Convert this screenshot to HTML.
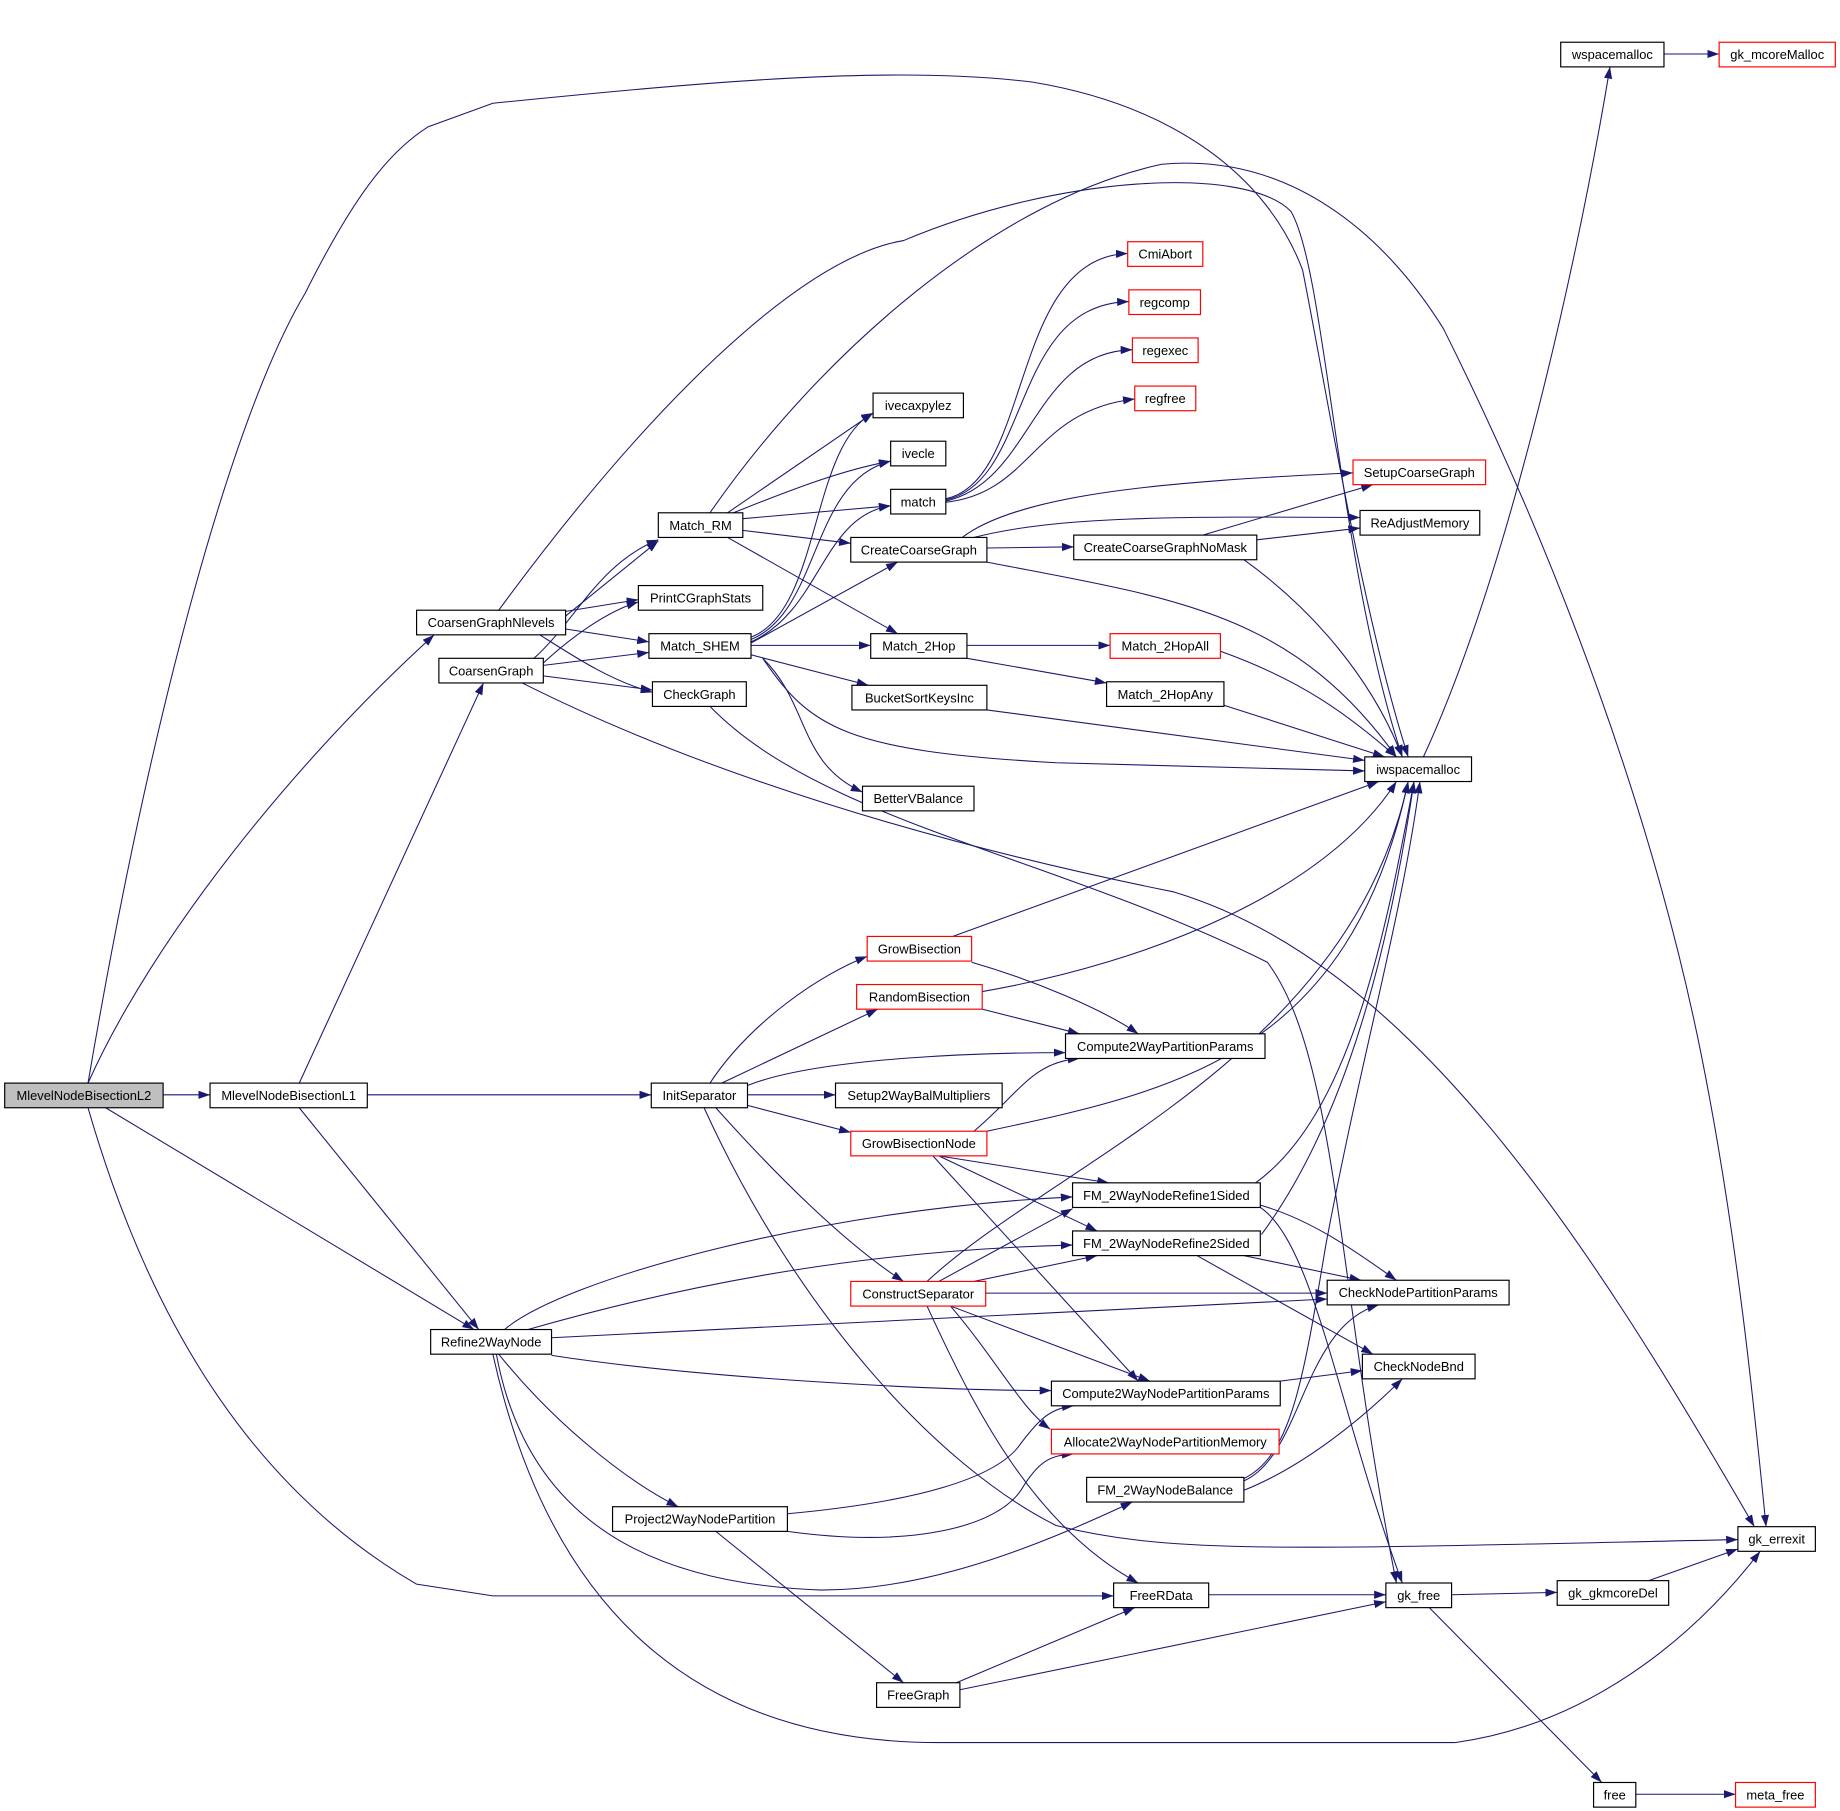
<!DOCTYPE html>
<html><head><meta charset="utf-8"><style>
html,body{margin:0;padding:0;background:#fff}
svg{display:block}
text{font-family:"Liberation Sans",sans-serif;font-size:11px;text-anchor:middle}
.e{fill:none;stroke:#191970;stroke-width:0.9}
</style></head><body>
<svg width="1840" height="1811" viewBox="0 0 1568 1543.3" preserveAspectRatio="none">
<defs><marker id="a" markerUnits="userSpaceOnUse" markerWidth="11" markerHeight="8" refX="10" refY="3.5" orient="auto"><path d="M0,0 L10,3.5 L0,7 z" fill="#191970"/></marker></defs>
<g class="e" marker-end="url(#a)">
<path d="M139,933 L179,933"/>
<path d="M75,923 C130,800 250,650 370,541"/>
<path d="M90,944 L404,1133"/>
<path d="M75,923 C130,600 200,350 260,250 C300,170 330,130 365,108 L420,88 C600,70 760,55 880,70 C1000,90 1080,150 1110,230 C1130,330 1160,520 1200,645"/>
<path d="M75,944 C120,1100 200,1260 355,1350 L420,1360 L949,1360"/>
<path d="M313,933 L555,933"/>
<path d="M255,923 L412,582"/>
<path d="M255,944 L408,1133"/>
<path d="M482,525 L561,461"/>
<path d="M482,521 L544,511"/>
<path d="M482,536 L553,547"/>
<path d="M460,541 C490,560 520,580 556,590"/>
<path d="M425,520 C550,350 680,220 770,205 C900,150 1060,140 1100,180 C1130,230 1140,480 1195,645"/>
<path d="M605,437 C700,300 850,170 990,140 C1100,130 1180,200 1230,280 C1330,480 1410,700 1450,900 C1480,1050 1495,1200 1505,1301"/>
<path d="M455,561 C490,530 510,480 561,460"/>
<path d="M463,565 C490,540 520,520 544,513"/>
<path d="M463,567 L553,556"/>
<path d="M463,576 L556,588"/>
<path d="M445,582 C600,660 800,720 1000,760 C1200,820 1350,1050 1495,1301"/>
<path d="M620,437 L744,352"/>
<path d="M625,437 C680,415 720,400 759,393"/>
<path d="M633,442 L759,431"/>
<path d="M633,452 L725,463"/>
<path d="M620,458 L765,540"/>
<path d="M640,543 C700,520 690,380 744,352"/>
<path d="M640,545 C700,520 690,410 759,393"/>
<path d="M640,547 C700,520 700,440 759,431"/>
<path d="M640,548 L765,479"/>
<path d="M640,550 L742,550"/>
<path d="M640,558 L740,584"/>
<path d="M650,561 C690,600 680,650 735,675"/>
<path d="M650,561 C690,620 720,640 900,650 L1163,657"/>
<path d="M605,602 C700,700 900,730 1080,820 C1140,900 1140,1100 1190,1349"/>
<path d="M806,425 C880,410 860,220 961,216"/>
<path d="M806,426 C880,410 860,260 962,257"/>
<path d="M806,427 C880,410 880,300 965,298"/>
<path d="M806,428 C880,420 880,350 967,340"/>
<path d="M820,458 C870,420 1000,410 1153,403"/>
<path d="M830,458 C900,440 1000,440 1159,441"/>
<path d="M841,467 L915,466"/>
<path d="M841,479 C1000,510 1100,520 1190,645"/>
<path d="M1025,456 L1170,413"/>
<path d="M1071,460 L1159,450"/>
<path d="M1060,477 C1120,520 1170,580 1195,645"/>
<path d="M824,550 L946,550"/>
<path d="M824,561 L943,582"/>
<path d="M1040,555 C1110,580 1150,610 1190,645"/>
<path d="M1040,600 L1180,645"/>
<path d="M841,605 L1163,648"/>
<path d="M1213,645 C1280,500 1340,250 1372,57"/>
<path d="M1418,46 L1465,46"/>
<path d="M605,923 C640,870 700,830 739,815"/>
<path d="M615,923 L748,860"/>
<path d="M637,925 C700,900 850,897 908,897"/>
<path d="M637,933 L712,933"/>
<path d="M637,942 L725,965"/>
<path d="M610,944 C660,1000 720,1060 770,1092"/>
<path d="M600,944 C680,1120 800,1250 900,1300 C1000,1325 1100,1320 1481,1312"/>
<path d="M812,798 L1175,666"/>
<path d="M828,820 C880,835 940,860 970,881"/>
<path d="M837,845 C980,820 1130,760 1190,666"/>
<path d="M837,860 L920,881"/>
<path d="M830,964 C870,930 880,905 920,902"/>
<path d="M841,964 C1000,930 1150,900 1200,666"/>
<path d="M800,985 L945,1008"/>
<path d="M800,985 L935,1049"/>
<path d="M795,985 L970,1177"/>
<path d="M1074,1027 C1120,1040 1160,1070 1190,1091"/>
<path d="M1074,1029 C1120,1060 1140,1200 1195,1349"/>
<path d="M1070,1008 C1150,950 1180,800 1205,666"/>
<path d="M1060,1070 L1160,1091"/>
<path d="M1020,1070 L1170,1154"/>
<path d="M1075,1052 C1150,950 1185,800 1205,666"/>
<path d="M790,1092 C900,990 1150,900 1200,666"/>
<path d="M800,1092 L914,1030"/>
<path d="M830,1092 L935,1070"/>
<path d="M840,1102 L1131,1102"/>
<path d="M810,1113 L980,1177"/>
<path d="M810,1113 C850,1160 870,1200 895,1218"/>
<path d="M790,1113 C830,1200 880,1300 970,1349"/>
<path d="M430,1133 C480,1090 700,1030 914,1020"/>
<path d="M450,1133 C600,1090 750,1065 914,1061"/>
<path d="M470,1140 L1131,1107"/>
<path d="M470,1155 C600,1175 800,1185 896,1185"/>
<path d="M425,1154 C470,1210 530,1260 578,1284"/>
<path d="M423,1154 C450,1300 560,1350 700,1355 C800,1355 900,1310 965,1280"/>
<path d="M420,1154 C470,1380 600,1485 800,1485 L1240,1485 C1350,1470 1440,1400 1500,1322"/>
<path d="M1091,1177 L1161,1168"/>
<path d="M1060,1262 C1110,1240 1110,1130 1175,1112"/>
<path d="M1060,1270 C1110,1250 1160,1210 1195,1175"/>
<path d="M1060,1260 C1100,1240 1110,1180 1130,1060 C1160,900 1195,780 1210,666"/>
<path d="M671,1290 C780,1280 850,1260 870,1230 C885,1210 895,1200 915,1198"/>
<path d="M671,1305 C780,1320 850,1300 870,1270 C885,1245 895,1240 915,1239"/>
<path d="M610,1305 L770,1434"/>
<path d="M1030,1359 L1181,1359"/>
<path d="M815,1434 L967,1370"/>
<path d="M818,1440 L1181,1365"/>
<path d="M1237,1359 L1327,1357"/>
<path d="M1218,1370 L1365,1519"/>
<path d="M1405,1347 L1481,1320"/>
<path d="M1394,1529 L1479,1529"/>
</g>
<g stroke-width="1" fill="#fff" stroke="#000">
<rect x="4" y="923" width="135" height="21" fill="#bfbfbf"/>
<rect x="179" y="923" width="134" height="21"/>
<rect x="555" y="923" width="82" height="21"/>
<rect x="367" y="1133" width="103" height="21"/>
<rect x="355" y="520" width="127" height="21"/>
<rect x="374" y="561" width="89" height="21"/>
<rect x="561" y="437" width="72" height="21"/>
<rect x="544" y="499" width="106" height="21"/>
<rect x="553" y="540" width="87" height="21"/>
<rect x="556" y="581" width="80" height="21"/>
<rect x="744" y="335" width="77" height="21"/>
<rect x="759" y="376" width="47" height="21"/>
<rect x="759" y="417" width="47" height="21"/>
<rect x="725" y="458" width="116" height="21"/>
<rect x="742" y="540" width="82" height="21"/>
<rect x="726" y="584" width="115" height="21"/>
<rect x="735" y="670" width="95" height="21"/>
<rect x="961" y="206" width="64" height="21" stroke="#f00"/>
<rect x="962" y="247" width="61" height="21" stroke="#f00"/>
<rect x="965" y="288" width="56" height="21" stroke="#f00"/>
<rect x="967" y="329" width="52" height="21" stroke="#f00"/>
<rect x="1153" y="392" width="113" height="21" stroke="#f00"/>
<rect x="1159" y="435" width="102" height="21"/>
<rect x="915" y="456" width="156" height="21"/>
<rect x="946" y="540" width="94" height="21" stroke="#f00"/>
<rect x="943" y="581" width="100" height="21"/>
<rect x="1163" y="645" width="91" height="21"/>
<rect x="1330" y="36" width="88" height="21"/>
<rect x="1465" y="36" width="99" height="21" stroke="#f00"/>
<rect x="739" y="798" width="89" height="21" stroke="#f00"/>
<rect x="730" y="839" width="107" height="21" stroke="#f00"/>
<rect x="908" y="881" width="170" height="21"/>
<rect x="712" y="923" width="142" height="21"/>
<rect x="725" y="964" width="116" height="21" stroke="#f00"/>
<rect x="914" y="1008" width="160" height="21"/>
<rect x="914" y="1049" width="160" height="21"/>
<rect x="725" y="1092" width="115" height="21" stroke="#f00"/>
<rect x="1131" y="1091" width="155" height="21"/>
<rect x="1161" y="1154" width="96" height="21"/>
<rect x="896" y="1177" width="195" height="21"/>
<rect x="896" y="1218" width="194" height="21" stroke="#f00"/>
<rect x="926" y="1259" width="134" height="21"/>
<rect x="522" y="1284" width="149" height="21"/>
<rect x="1481" y="1301" width="66" height="21"/>
<rect x="949" y="1349" width="81" height="21"/>
<rect x="1181" y="1349" width="56" height="21"/>
<rect x="1327" y="1347" width="95" height="21"/>
<rect x="747" y="1434" width="71" height="21"/>
<rect x="1358" y="1519" width="36" height="21"/>
<rect x="1479" y="1519" width="68" height="21" stroke="#f00"/>
</g>
<g>
<text x="71.5" y="937.5">MlevelNodeBisectionL2</text>
<text x="246" y="937.5">MlevelNodeBisectionL1</text>
<text x="596" y="937.5">InitSeparator</text>
<text x="418.5" y="1147.5">Refine2WayNode</text>
<text x="418.5" y="534.5">CoarsenGraphNlevels</text>
<text x="418.5" y="575.5">CoarsenGraph</text>
<text x="597" y="451.5">Match_RM</text>
<text x="597" y="513.5">PrintCGraphStats</text>
<text x="596.5" y="554.5">Match_SHEM</text>
<text x="596" y="595.5">CheckGraph</text>
<text x="782.5" y="349.5">ivecaxpylez</text>
<text x="782.5" y="390.5">ivecle</text>
<text x="782.5" y="431.5">match</text>
<text x="783" y="472.5">CreateCoarseGraph</text>
<text x="783" y="554.5">Match_2Hop</text>
<text x="783.5" y="598.5">BucketSortKeysInc</text>
<text x="782.5" y="684.5">BetterVBalance</text>
<text x="993" y="220.5">CmiAbort</text>
<text x="992.5" y="261.5">regcomp</text>
<text x="993" y="302.5">regexec</text>
<text x="993" y="343.5">regfree</text>
<text x="1209.5" y="406.5">SetupCoarseGraph</text>
<text x="1210" y="449.5">ReAdjustMemory</text>
<text x="993" y="470.5">CreateCoarseGraphNoMask</text>
<text x="993" y="554.5">Match_2HopAll</text>
<text x="993" y="595.5">Match_2HopAny</text>
<text x="1208.5" y="659.5">iwspacemalloc</text>
<text x="1374" y="50.5">wspacemalloc</text>
<text x="1514.5" y="50.5">gk_mcoreMalloc</text>
<text x="783.5" y="812.5">GrowBisection</text>
<text x="783.5" y="853.5">RandomBisection</text>
<text x="993" y="895.5">Compute2WayPartitionParams</text>
<text x="783" y="937.5">Setup2WayBalMultipliers</text>
<text x="783" y="978.5">GrowBisectionNode</text>
<text x="994" y="1022.5">FM_2WayNodeRefine1Sided</text>
<text x="994" y="1063.5">FM_2WayNodeRefine2Sided</text>
<text x="782.5" y="1106.5">ConstructSeparator</text>
<text x="1208.5" y="1105.5">CheckNodePartitionParams</text>
<text x="1209" y="1168.5">CheckNodeBnd</text>
<text x="993.5" y="1191.5">Compute2WayNodePartitionParams</text>
<text x="993" y="1232.5">Allocate2WayNodePartitionMemory</text>
<text x="993" y="1273.5">FM_2WayNodeBalance</text>
<text x="596.5" y="1298.5">Project2WayNodePartition</text>
<text x="1514" y="1315.5">gk_errexit</text>
<text x="989.5" y="1363.5">FreeRData</text>
<text x="1209" y="1363.5">gk_free</text>
<text x="1374.5" y="1361.5">gk_gkmcoreDel</text>
<text x="782.5" y="1448.5">FreeGraph</text>
<text x="1376" y="1533.5">free</text>
<text x="1513" y="1533.5">meta_free</text>
</g>
</svg>
</body></html>
